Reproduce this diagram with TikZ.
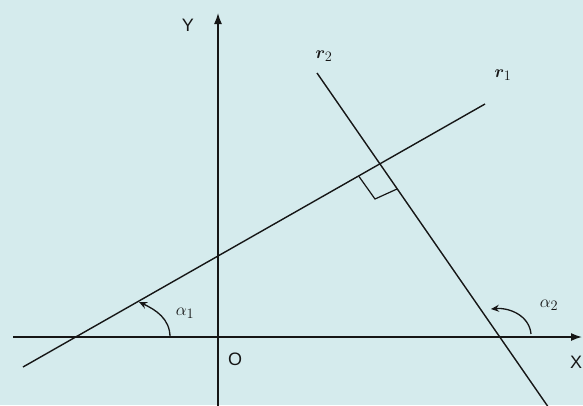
\documentclass[tikz,border=0pt]{standalone}
\usepackage{fontspec}
\usepackage{bm}
\usetikzlibrary{arrows.meta}
\newfontfamily\axisfont{Liberation Sans}
\definecolor{bg}{RGB}{213,235,237}
\definecolor{ink}{RGB}{22,22,22}
\begin{document}
\begin{tikzpicture}[x=1pt,y=-1pt,
  axisline/.style={draw=ink,line width=1.5pt,-{Latex[length=11pt,width=8pt]}},
  rline/.style={draw=ink,line width=1.4pt},
  anglearrow/.style={draw=ink,line width=1.3pt,-{Stealth[length=8pt,width=7pt]}},
  marker/.style={draw=ink,line width=1.2pt},
  axlbl/.style={text=ink,inner sep=0pt,font=\axisfont\fontsize{18}{18}\selectfont},
  mathlbl/.style={text=ink,inner sep=0pt,font=\fontsize{19}{19}\selectfont}]
\useasboundingbox (0,0) rectangle (583,405);
\fill[bg] (0,0) rectangle (583,405);
\begin{scope}
\clip (0,0) rectangle (583,405);
% axes
\coordinate (ybot) at (218,410);
\coordinate (ytop) at (218,13);
\coordinate (xleft) at (13,337);
\coordinate (xright) at (582,337);
\draw[axisline] (ybot) -- (ytop);
\draw[axisline] (xleft) -- (xright);
% lines
\coordinate (r1a) at (23,367);
\coordinate (r1b) at (485,104);
\coordinate (r2a) at (317,73);
\coordinate (r2b) at (551,411);
\draw[rline] (r1a) -- (r1b);
\draw[rline] (r2a) -- (r2b);
% right angle marker
\coordinate (m1) at (359,176.5);
\coordinate (mc) at (375,199);
\coordinate (m2) at (397,189);
\draw[marker] (m1) -- (mc) -- (m2);
% angle arcs
\coordinate (a1s) at (170,337);
\coordinate (a1e) at (139,302);
\draw[anglearrow] (a1s) to[out=90,in=-25] (a1e);
\coordinate (a2s) at (531,334);
\coordinate (a2e) at (491,309);
\draw[anglearrow] (a2s) to[out=95,in=5] (a2e);
% labels
\node[axlbl] (ylab) at (188,25) {Y};
\node[axlbl] (olab) at (235,359) {O};
\node[axlbl] (xlab) at (576,362) {X};
\node[mathlbl] (r2lab) at (324,56) {$\bm{r}_{2}$};
\node[mathlbl] (r1lab) at (503,75) {$\bm{r}_{1}$};
\node[mathlbl] (al1) at (185,313) {$\alpha_{1}$};
\node[mathlbl] (al2) at (549,305) {$\alpha_{2}$};
\end{scope}
\end{tikzpicture}
\end{document}
